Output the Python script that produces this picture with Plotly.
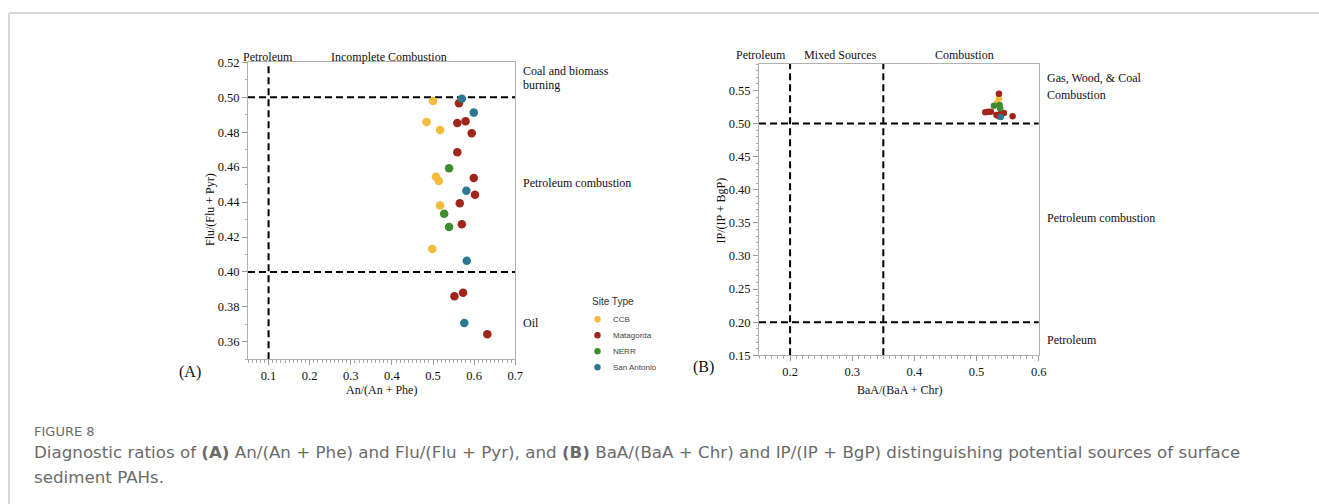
import plotly.graph_objects as go

W, H = 1319, 504

# ---------------- data ----------------
sites = ["CCB", "Matagorda", "NERR", "San Antonio"]
site_colors = ["#F4BC3A", "#A0251A", "#3D8C2E", "#2D7891"]

# Panel A: An/(An+Phe) vs Flu/(Flu+Pyr)
a_ccb_x = [0.500, 0.484, 0.517, 0.507, 0.514, 0.517, 0.498]
a_ccb_y = [0.4978, 0.4858, 0.4813, 0.4545, 0.4521, 0.4381, 0.4131]
a_mat_x = [0.563, 0.559, 0.579, 0.594, 0.559, 0.599, 0.602, 0.565, 0.570, 0.573, 0.552, 0.632]
a_mat_y = [0.4965, 0.4853, 0.4862, 0.4794, 0.4685, 0.4538, 0.4442, 0.4393, 0.4273, 0.3881, 0.3861, 0.3643]
a_nerr_x = [0.539, 0.527, 0.539]
a_nerr_y = [0.4593, 0.4333, 0.4257]
a_sa_x = [0.570, 0.599, 0.581, 0.582, 0.576]
a_sa_y = [0.4992, 0.4912, 0.4465, 0.4064, 0.3708]

# Panel B: BaA/(BaA+Chr) vs IP/(IP+BgP)
b_ccb_x = [0.536, 0.533]
b_ccb_y = [0.538, 0.531]
b_mat_x = [0.536, 0.514, 0.519, 0.523, 0.532, 0.536, 0.540, 0.544, 0.538, 0.558]
b_mat_y = [0.545, 0.517, 0.518, 0.518, 0.513, 0.511, 0.516, 0.516, 0.514, 0.511]
b_nerr_x = [0.528, 0.537, 0.538]
b_nerr_y = [0.527, 0.528, 0.523]
b_sa_x = [0.539]
b_sa_y = [0.510]

# source thresholds
a_vlines = [0.1]
a_hlines = [0.50, 0.40]
b_vlines = [0.2, 0.35]
b_hlines = [0.50, 0.20]

SERIF = "Liberation Serif"
SANS = "Liberation Sans"
CAP = "DejaVu Sans"


def px(x):
    return x / W


def py(y):
    return 1 - y / H


fig = go.Figure()

a_sets = [(a_ccb_x, a_ccb_y), (a_mat_x, a_mat_y), (a_nerr_x, a_nerr_y), (a_sa_x, a_sa_y)]
b_sets = [(b_ccb_x, b_ccb_y), (b_mat_x, b_mat_y), (b_nerr_x, b_nerr_y), (b_sa_x, b_sa_y)]

for name, col, (xs, ys) in zip(sites, site_colors, a_sets):
    fig.add_trace(go.Scatter(x=xs, y=ys, mode="markers", name=name,
                             marker=dict(color=col, size=8.5, line=dict(width=0)),
                             xaxis="x", yaxis="y", showlegend=False))
for name, col, (xs, ys) in zip(sites, site_colors, b_sets):
    fig.add_trace(go.Scatter(x=xs, y=ys, mode="markers", name=name,
                             marker=dict(color=col, size=6.5, line=dict(width=0)),
                             xaxis="x2", yaxis="y2", showlegend=False))

axis_common = dict(showline=True, linecolor="#b0b0b0", linewidth=1, mirror=True,
                   ticks="outside", ticklen=5, tickcolor="#999", tickwidth=1,
                   showgrid=False, zeroline=False, automargin=False,
                   tickfont=dict(family=SERIF, size=12.5, color="#111"))
minor_common = dict(ticks="outside", ticklen=2.5, tickcolor="#aaa", tickwidth=1, showgrid=False)

fig.update_layout(
    width=W, height=H, margin=dict(l=0, r=0, t=0, b=0, pad=0, autoexpand=False),
    paper_bgcolor="white", plot_bgcolor="white", showlegend=False,
    xaxis=dict(domain=[px(248), px(515.3)], range=[0.05, 0.7], tick0=0, dtick=0.1,
               tickformat=".1f", anchor="y", minor=dict(dtick=0.01, **minor_common), **axis_common),
    yaxis=dict(domain=[py(359.3), py(62.3)], range=[0.35, 0.52], tick0=0, dtick=0.02,
               tickformat=".2f", anchor="x", minor=dict(dtick=0.01, **minor_common), **axis_common),
    xaxis2=dict(domain=[px(759), px(1038.7)], range=[0.15, 0.6], tick0=0, dtick=0.1,
                tickformat=".1f", anchor="y2", minor=dict(dtick=0.01, **minor_common), **axis_common),
    yaxis2=dict(domain=[py(355.3), py(64)], range=[0.15, 0.59], tick0=0, dtick=0.05,
                tickformat=".2f", anchor="x2", minor=dict(dtick=0.01, **minor_common), **axis_common),
)

dash_line = dict(color="black", width=2, dash="7px,4px")
shapes = []
for v in a_vlines:
    shapes.append(dict(type="line", xref="x", yref="y domain", x0=v, x1=v, y0=0, y1=1,
                       line=dash_line, layer="below"))
for h in a_hlines:
    shapes.append(dict(type="line", xref="x domain", yref="y", x0=0, x1=1, y0=h, y1=h,
                       line=dash_line, layer="below"))
for v in b_vlines:
    shapes.append(dict(type="line", xref="x2", yref="y2 domain", x0=v, x1=v, y0=0, y1=1,
                       line=dash_line, layer="below"))
for h in b_hlines:
    shapes.append(dict(type="line", xref="x2 domain", yref="y2", x0=0, x1=1, y0=h, y1=h,
                       line=dash_line, layer="below"))

# page frame
shapes.append(dict(type="line", xref="paper", yref="paper", x0=px(9), x1=1, y0=py(13), y1=py(13),
                   line=dict(color="#cccccc", width=1.5)))
shapes.append(dict(type="line", xref="paper", yref="paper", x0=px(9), x1=px(9), y0=py(13), y1=0,
                   line=dict(color="#cccccc", width=1.5)))

# legend markers (drawn manually to match the compact legend)
leg_rows = [319.3, 335.3, 351.3, 367.3]
r = 3.2
for col, yy in zip(site_colors, leg_rows):
    shapes.append(dict(type="circle", xref="paper", yref="paper",
                       x0=px(597.5 - r), x1=px(597.5 + r), y0=py(yy + r), y1=py(yy - r),
                       fillcolor=col, line=dict(width=0)))
fig.update_layout(shapes=shapes)

ann = []


def text(t, x, y, size=12, family=SERIF, color="#111", xanchor="left", angle=0):
    ann.append(dict(text=t, x=px(x), y=py(y), xref="paper", yref="paper", showarrow=False,
                    xanchor=xanchor, yanchor="middle", textangle=angle,
                    font=dict(family=family, size=size, color=color)))


# Panel A
text("Petroleum", 268, 56.5, xanchor="center")
text("Incomplete Combustion", 388.7, 56.5, xanchor="center")
text("Coal and biomass", 521, 71.5)
text("burning", 521, 85)
text("Petroleum combustion", 521, 182.5)
text("Oil", 521, 322.5)
text("(A)", 189.5, 371.5, size=16, xanchor="center")
text("An/(An + Phe)", 381.7, 390, xanchor="center")
text("Flu/(Flu + Pyr)", 210, 210, xanchor="center", angle=-90)

# Panel B
text("Petroleum", 761, 55, xanchor="center")
text("Mixed Sources", 840, 55, xanchor="center")
text("Combustion", 964, 55, xanchor="center")
text("Gas, Wood, &amp; Coal", 1045, 77.5)
text("Combustion", 1045, 95)
text("Petroleum combustion", 1045, 218)
text("Petroleum", 1045, 340)
text("(B)", 703, 367, size=16, xanchor="center")
text("BaA/(BaA + Chr)", 899, 390, xanchor="center")
text("IP/(IP + BgP)", 720.5, 210, xanchor="center", angle=-90)

# legend text
text("Site Type", 590, 301.5, size=10, family=SANS, color="#333")
for name, yy in zip(sites, leg_rows):
    text(name, 610.5, yy, size=8, family=SANS, color="#444")

# caption
text("FIGURE 8", 32, 431, size=13, family=CAP, color="#6b6b6b")
text("Diagnostic ratios of <b>(A)</b> An/(An + Phe) and Flu/(Flu + Pyr), and <b>(B)</b> BaA/(BaA + Chr) "
     "and IP/(IP + BgP) distinguishing potential sources of surface", 32, 451.5, size=16.7,
     family=CAP, color="#6b6b6b")
text("sediment PAHs.", 32, 476.5, size=16.7, family=CAP, color="#6b6b6b")

fig.update_layout(annotations=ann)

fig.write_html("out.html", config={"displayModeBar": False},
               post_script="document.body.style.margin='0';document.body.style.overflow='hidden';")
